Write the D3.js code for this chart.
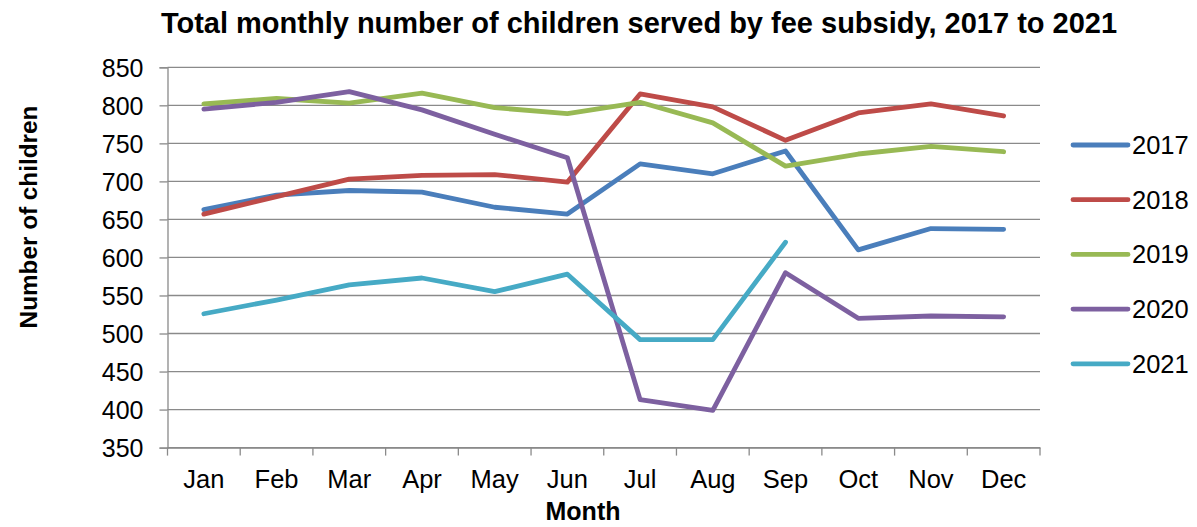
<!DOCTYPE html>
<html><head><meta charset="utf-8">
<script src="https://cdn.jsdelivr.net/npm/d3@7"></script>
<style>body{margin:0;background:#fff}svg{display:block;font-family:"Liberation Sans",Arial,sans-serif}</style>
</head><body>
<script>
const months = ["Jan","Feb","Mar","Apr","May","Jun","Jul","Aug","Sep","Oct","Nov","Dec"];
const seriesNames = ["2017","2018","2019","2020","2021"];
const colors = ["#4A7EBB","#BE4B48","#98B954","#7D60A0","#46AAC5"];
const v2017 = [663,682,688,686,666,657,723,710,740,610,638,637];
const v2018 = [657,680,703,708,709,699,815,798,754,790,802,786];
const v2019 = [802,809,803,816,797,789,804,777,720,736,746,739];
const v2020 = [795,804,818,794,762,731,413,399,580,520,523,522];
const v2021 = [526,544,564,573,555,578,492,492,620];
const yTicks = [350,400,450,500,550,600,650,700,750,800,850];
const values = [v2017,v2018,v2019,v2020,v2021];

const W=1197,H=527;
const m={l:167.5,r:1040,t:67.3,b:447.6};
const svg=d3.select("body").append("svg").attr("width",W).attr("height",H);
const x=d3.scaleBand().domain(months).range([m.l,m.r]);
const y=d3.scaleLinear().domain([350,850]).range([m.b,m.t]);
const FONT="Liberation Sans, Arial, sans-serif";

// gridlines
svg.append("g").selectAll("line").data(yTicks).join("line")
  .attr("x1",m.l).attr("x2",m.r).attr("y1",d=>y(d)).attr("y2",d=>y(d))
  .attr("stroke","#8a8a8a").attr("stroke-width",1.3);

// y axis
const ya=svg.append("g").attr("transform",`translate(${m.l},0)`)
  .call(d3.axisLeft(y).tickValues(yTicks).tickSize(8).tickPadding(16));
ya.select(".domain").attr("stroke","#8a8a8a").attr("stroke-width",1.3);
ya.selectAll(".tick line").attr("stroke","#8a8a8a").attr("stroke-width",1.3);
ya.selectAll("text").attr("font-size",25).attr("fill","#000").attr("font-family",FONT).attr("dy","0.35em");

// x axis
const xa=svg.append("g").attr("transform",`translate(0,${m.b})`)
  .call(d3.axisBottom(x).tickSize(0).tickPadding(0));
xa.select(".domain").attr("stroke","#8a8a8a").attr("stroke-width",1.3);
xa.selectAll(".tick text").attr("font-size",25.5).attr("fill","#000").attr("font-family",FONT)
  .attr("dy",0).attr("y",40.5);
const bounds=[...months.map(mm=>x(mm)), m.r];
xa.selectAll(".bt").data(bounds).join("line").attr("class","bt")
  .attr("x1",d=>d).attr("x2",d=>d).attr("y1",0).attr("y2",8)
  .attr("stroke","#8a8a8a").attr("stroke-width",1.3);

// lines
const line=d3.line().x((d,i)=>x(months[i])+x.bandwidth()/2).y(d=>y(d));
svg.append("g").selectAll("path").data(values).join("path")
  .attr("d",d=>line(d)).attr("fill","none")
  .attr("stroke",(d,i)=>colors[i]).attr("stroke-width",4.8)
  .attr("stroke-linejoin","round").attr("stroke-linecap","round");

// titles
svg.append("text").attr("x",639).attr("y",33).attr("text-anchor","middle")
  .attr("font-size",29).attr("font-weight","bold").text("Total monthly number of children served by fee subsidy, 2017 to 2021");
svg.append("text").attr("transform","translate(37,217) rotate(-90)").attr("text-anchor","middle")
  .attr("font-size",24.3).attr("font-weight","bold").text("Number of children");
svg.append("text").attr("x",583).attr("y",520).attr("text-anchor","middle")
  .attr("font-size",25).attr("font-weight","bold").text("Month");

// legend
const lg=svg.append("g").selectAll("g").data(seriesNames).join("g")
  .attr("transform",(d,i)=>`translate(1073,${145+i*54.7})`);
lg.append("line").attr("x1",0).attr("x2",55).attr("y1",0).attr("y2",0)
  .attr("stroke",(d,i)=>colors[i]).attr("stroke-width",4.8).attr("stroke-linecap","round");
lg.append("text").attr("x",59).attr("y",0).attr("dy","0.35em").attr("font-size",25.5).text(d=>d);
</script>
</body></html>
